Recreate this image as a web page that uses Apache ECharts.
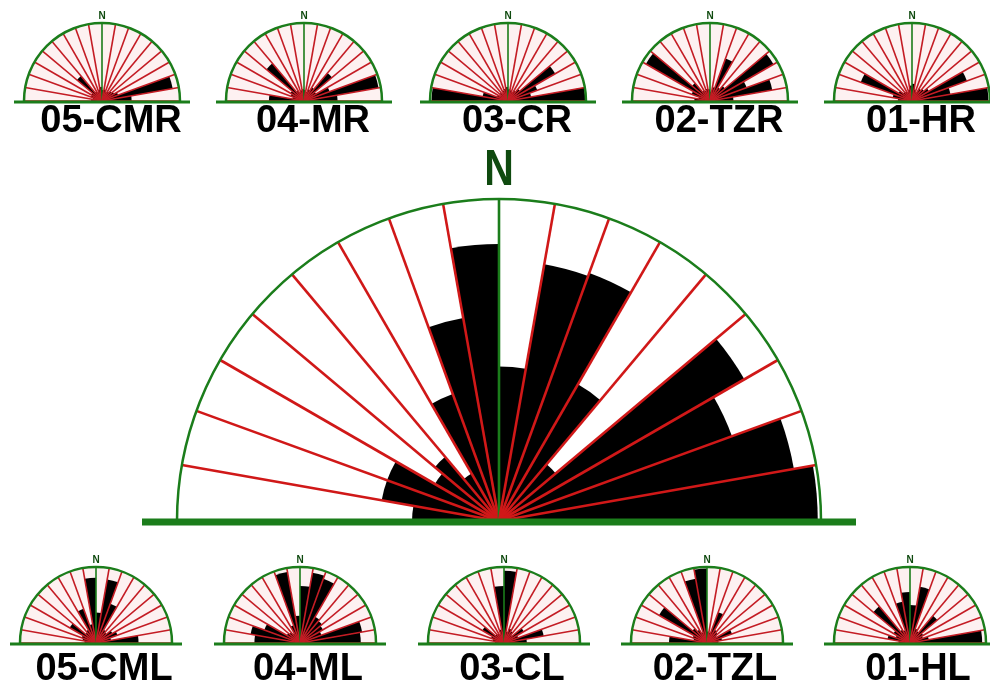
<!DOCTYPE html>
<html>
<head>
<meta charset="utf-8">
<title>rose diagrams</title>
<script src="https://cdn.jsdelivr.net/npm/echarts@6/dist/echarts.min.js"></script>
<style>
html,body{margin:0;padding:0;background:#fff;}
#main{width:990px;height:684px;}
</style>
</head>
<body>
<div id="main"></div>
<script>
// sectors of 10 deg, from west through north to east (start bearing)
var sectors = ['270','280','290','300','310','320','330','340','350','0','10','20','30','40','50','60','70','80'];

// big rose, length in % of radius
var bigRose = [27, 37, 37, 23, 26, 17, 42, 64, 86, 48, 81, 82, 49, 23, 88, 77, 93, 99];

// small roses, top row (right side)
var cmr = [14, 12, 15, 16, 42, 14, 12, 15, 18, 14, 15, 12, 14, 16, 18, 22, 92, 38];
var mr  = [45, 15, 18, 20, 63, 15, 12, 14, 15, 14, 12, 16, 20, 47, 18, 35, 97, 43];
var cr  = [98, 33, 15, 12, 14, 12, 14, 16, 18, 15, 14, 12, 15, 20, 70, 40, 30, 99];
var tzr = [20, 15, 25, 95, 30, 15, 14, 16, 15, 12, 18, 58, 20, 25, 94, 50, 81, 30];
var hr  = [18, 25, 70, 20, 15, 14, 12, 15, 20, 22, 15, 12, 18, 20, 25, 75, 50, 98];
// small roses, bottom row (left side)
var cml = [15, 18, 20, 40, 18, 20, 48, 25, 86, 40, 85, 55, 20, 18, 25, 30, 20, 56];
var ml  = [60, 66, 50, 20, 18, 15, 25, 95, 36, 75, 94, 90, 40, 38, 35, 30, 83, 80];
var cl  = [12, 15, 18, 33, 15, 14, 12, 18, 75, 95, 15, 20, 18, 14, 30, 20, 53, 30];
var tzl = [50, 18, 20, 73, 25, 20, 15, 86, 98, 15, 14, 43, 20, 18, 15, 35, 20, 15];
var hl  = [15, 30, 20, 25, 63, 20, 18, 55, 67, 50, 75, 20, 18, 47, 20, 18, 25, 95];

var topNames = ['05-CMR','04-MR','03-CR','02-TZR','01-HR'];
var botNames = ['05-CML','04-ML','03-CL','02-TZL','01-HL'];
var topData = [cmr, mr, cr, tzr, hr];
var botData = [cml, ml, cl, tzl, hl];

var GREEN = '#1b7d1b';
var RED = '#d01818';

var myChart;

// colours of the split lines, the middle one (north) is green
function lineColors(n, red) {
	var c = [];
	for (var k = 0; k <= n; k++) {
		c.push(k * 2 === n ? GREEN : red);
	}
	return c;
}

var option = {
	backgroundColor: '#fff',
	animation: false,
	polar: [],
	angleAxis: [],
	radiusAxis: [],
	series: [],
	graphic: []
};

function addRose(cx, cy, r, vals, lw, red, baseW, baseExt, bg) {
	var i = option.polar.length;
	option.polar.push({center: [cx, cy], radius: r});
	option.angleAxis.push({
		polarIndex: i,
		type: 'category',
		data: sectors,
		startAngle: 180,
		endAngle: 0,
		z: 10,
		axisLine: {show: true, lineStyle: {color: GREEN, width: 2.5}},
		axisTick: {show: false, interval: 0},
		axisLabel: {show: false, interval: 0},
		splitLine: {show: true, interval: 0, lineStyle: {color: lineColors(sectors.length, red), width: lw}}
	});
	option.radiusAxis.push({
		polarIndex: i,
		type: 'value',
		min: 0,
		max: 100,
		axisLine: {show: false},
		axisTick: {show: false},
		axisLabel: {show: false},
		splitLine: {show: false}
	});
	option.series.push({
		type: 'bar',
		coordinateSystem: 'polar',
		polarIndex: i,
		barCategoryGap: '0%',
		showBackground: !!bg,
		backgroundStyle: {color: bg || 'transparent'},
		itemStyle: {color: '#000'},
		data: vals
	});
	// ground line
	option.graphic.push({
		type: 'rect',
		z: 100,
		shape: {x: cx - r - baseExt, y: cy - baseW / 2 + 1, width: 2 * (r + baseExt), height: baseW},
		style: {fill: GREEN}
	});
}

// big one
addRose(499, 521, 322, bigRose, 2.6, RED, 7, 35, null);
option.graphic.push({
	type: 'text', z: 100, x: 499, y: 171, scaleX: 0.82,
	style: {x: 0, y: 0, text: 'N', textAlign: 'center', textVerticalAlign: 'middle',
		font: 'bold 50px "Liberation Sans", Arial', fill: '#0f4a0f'}
});

var topX = [102, 304, 508, 710, 912];
var botX = [96, 300, 504, 707, 910];

for (var k = 0; k < 5; k++) {
	addRose(topX[k], 101, 78, topData[k], 1.6, '#c41c24', 3, 10, '#fdf1f1');
	option.graphic.push({
		type: 'text', z: 100,
		style: {x: topX[k], y: 16, text: 'N', textAlign: 'center', textVerticalAlign: 'middle',
			font: 'bold 10px "Liberation Sans", Arial', fill: '#0f4a0f'}
	});
	option.graphic.push({
		type: 'text', z: 100,
		style: {x: topX[k] + 9, y: 122, text: topNames[k], textAlign: 'center', textVerticalAlign: 'middle',
			font: 'bold 38px "Liberation Sans", Arial', fill: '#000'}
	});

	addRose(botX[k], 643, 76, botData[k], 1.6, '#c41c24', 3, 10, '#fdf1f1');
	option.graphic.push({
		type: 'text', z: 100,
		style: {x: botX[k], y: 560, text: 'N', textAlign: 'center', textVerticalAlign: 'middle',
			font: 'bold 10px "Liberation Sans", Arial', fill: '#0f4a0f'}
	});
	option.graphic.push({
		type: 'text', z: 100,
		style: {x: botX[k] + 8, y: 670, text: botNames[k], textAlign: 'center', textVerticalAlign: 'middle',
			font: 'bold 38px "Liberation Sans", Arial', fill: '#000'}
	});
}

myChart = echarts.init(document.getElementById('main'));
myChart.setOption(option);
</script>
</body>
</html>
